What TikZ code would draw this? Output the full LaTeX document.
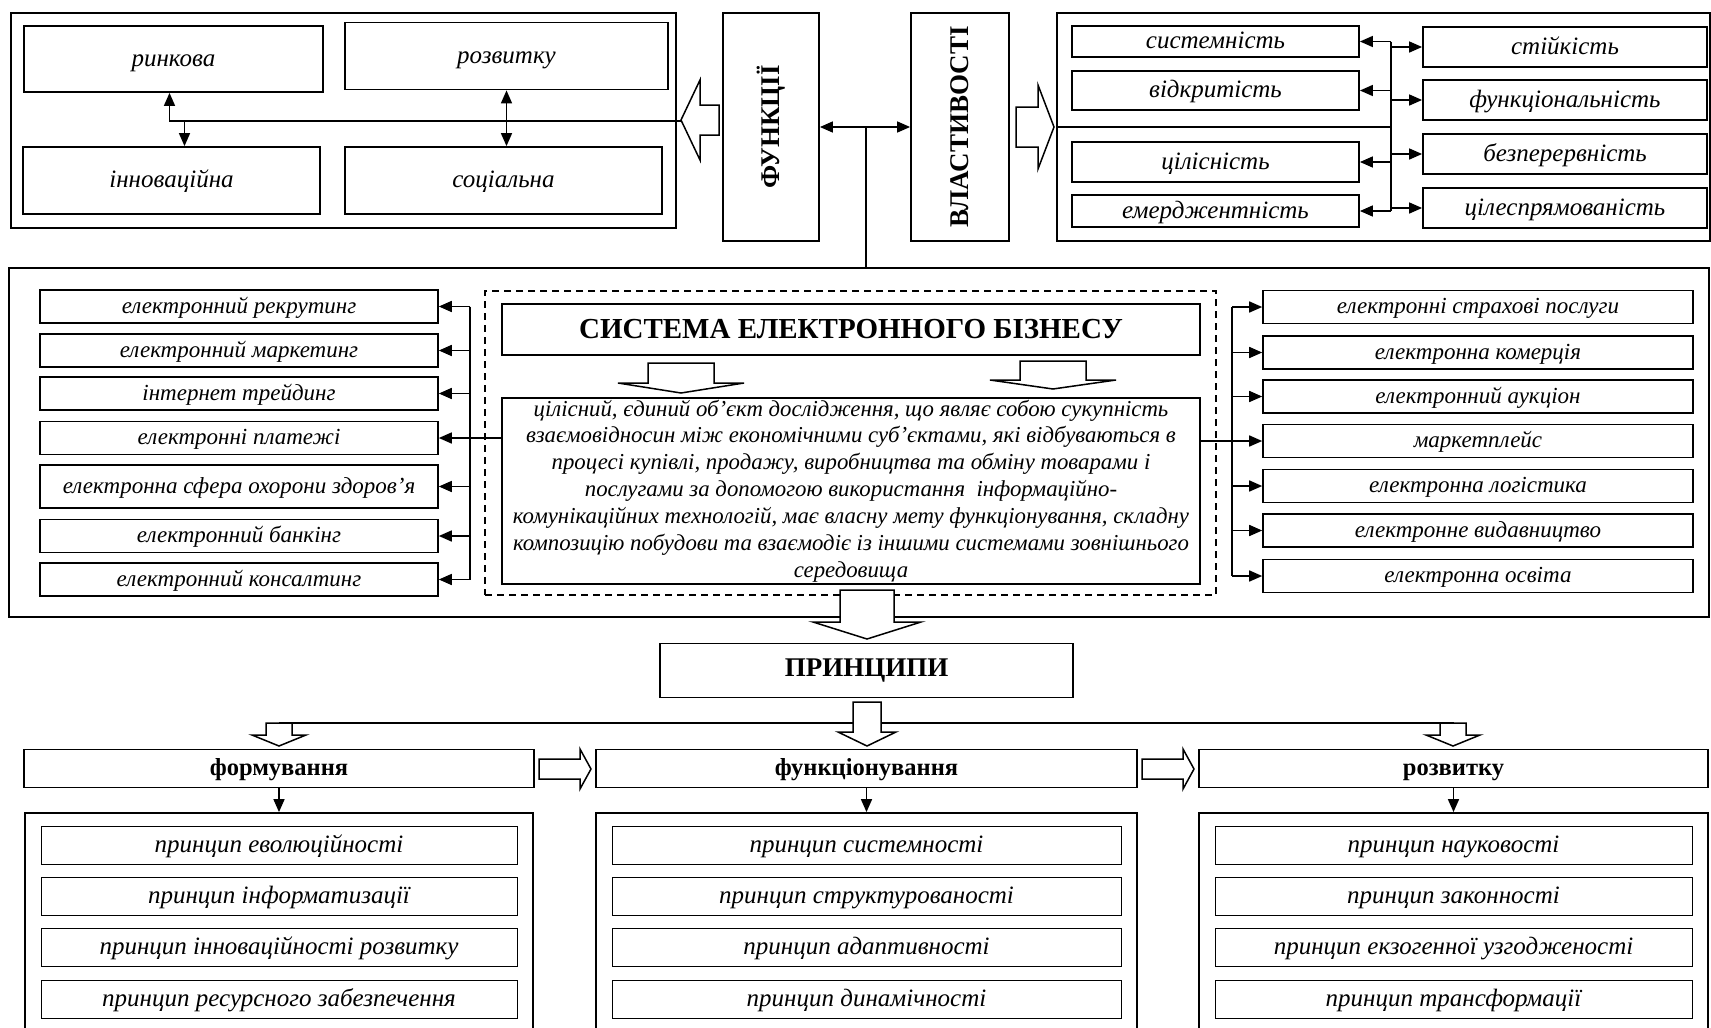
\documentclass[tikz,border=0pt]{standalone}
\usepackage{fontspec}
\setmainfont{Liberation Serif}
\usetikzlibrary{arrows.meta,positioning,calc}

% hollow block arrows: horizontal {cy}{back}{base}{tip}{shaft}{head}, vertical {cx}{top}{base}{tip}{shaft}{head}
\newcommand{\blockh}[6]{\draw[block] (#2,#1-#5) -- (#3,#1-#5) -- (#3,#1-#6) -- (#4,#1) -- (#3,#1+#6) -- (#3,#1+#5) -- (#2,#1+#5) -- cycle;}
\newcommand{\blockv}[6]{\draw[block] (#1-#5,#2) -- (#1-#5,#3) -- (#1-#6,#3) -- (#1,#4) -- (#1+#6,#3) -- (#1+#5,#3) -- (#1+#5,#2) -- cycle;}

\begin{document}
\begin{tikzpicture}[x=1pt,y=-1pt,>={Triangle[length=13pt,width=11pt]},
  frame/.style={draw,line width=1.8pt,inner sep=0pt},
  fbox/.style={draw,line width=1.8pt,inner sep=0pt,text height=19.5pt,text depth=5pt,font=\fontsize{25}{29}\selectfont\itshape},
  pbox/.style={draw,line width=1.8pt,inner sep=0pt,minimum width=287pt,text height=19.5pt,text depth=5pt,font=\fontsize{25}{29}\selectfont\itshape},
  qbox/.style={draw,line width=1.8pt,inner sep=0pt,minimum width=284pt,minimum height=40pt,text height=19.5pt,text depth=5pt,font=\fontsize{25}{29}\selectfont\itshape},
  lbox/.style={draw,line width=1.6pt,inner sep=0pt,minimum width=398pt,minimum height=33pt,text height=18pt,text depth=4.6pt,font=\fontsize{23}{27}\selectfont\itshape},
  rbox/.style={draw,line width=1.6pt,inner sep=0pt,minimum width=430pt,minimum height=33pt,text height=18pt,text depth=4.6pt,font=\fontsize{23}{27}\selectfont\itshape},
  head/.style={draw,line width=1.8pt,inner sep=0pt,minimum height=38pt,text height=19pt,text depth=4.9pt,font=\fontsize{24.5}{28}\selectfont\bfseries},
  pr/.style={draw,line width=0.8pt,inner sep=0pt,minimum height=38pt,text height=19.5pt,text depth=5pt,font=\fontsize{25}{29}\selectfont\itshape},
  line/.style={line width=1.6pt},
  block/.style={line width=1.5pt,fill=white,line join=miter},
  dashbox/.style={draw,line width=1.8pt,dash pattern=on 7pt off 5pt}]
\useasboundingbox (0,0) rectangle (1711,1028);

% functions
\node[frame,minimum width=665pt,minimum height=215pt] (ffrm) at (343.5,120.5) {};
\node[fbox,minimum width=299pt,minimum height=66pt] (rynk) at (173.5,59) {ринкова};
\node[fbox,minimum width=323pt,minimum height=67pt] (rozv) at (506.5,56) {розвитку};
\node[fbox,minimum width=297pt,minimum height=67pt] (innov) at (171.5,180.5) {інноваційна};
\node[fbox,minimum width=317pt,minimum height=67pt] (soc) at (503.5,180.5) {соціальна};
\coordinate (ftip) at (681,121);
\draw[line,->] (ftip) -| ([xshift=-4pt]rynk.south);
\draw[line,->] ([xshift=13pt]innov.north |- ftip) -- ([xshift=13pt]innov.north);
\draw[line,<->] (rozv.south) -- (rozv.south |- soc.north);
\blockh{120}{719}{700}{681}{15}{40}

\node[frame,minimum width=96pt,minimum height=228pt] (func) at (771,127) {};
\node[rotate=90,font=\fontsize{27}{31}\selectfont\bfseries] (funclab) at (func) {ФУНКЦІЇ};
\node[frame,minimum width=98pt,minimum height=228pt] (prop) at (960,127) {};
\node[rotate=90,font=\fontsize{27}{31}\selectfont\bfseries] (proplab) at (prop) {ВЛАСТИВОСТІ};
\coordinate (junc) at (866,127);
\draw[line,<->] (func) -- (prop);

% properties
\node[frame,minimum width=653pt,minimum height=228pt] (pfrm) at (1383.5,127) {};
\node[pbox,minimum height=31pt] (syst) at (1215.5,41.5) {системність};
\node[pbox,minimum height=39pt] (vidk) at (1215.5,90.5) {відкритість};
\node[pbox,minimum height=40pt] (tsil) at (1215.5,162) {цілісність};
\node[pbox,minimum height=32pt] (emer) at (1215.5,211) {емерджентність};
\node[qbox] (stik) at (1565,47) {стійкість};
\node[qbox] (fnkc) at (1565,100) {функціональність};
\node[qbox] (bezp) at (1565,154) {безперервність};
\node[qbox] (tsel) at (1565,208) {цілеспрямованість};
\coordinate (pbus) at (1391,127);
\draw[line] (pfrm.west |- pbus) -- (pbus);
\draw[line] (pbus |- syst) -- (pbus |- emer);
\foreach \n in {syst,vidk,tsil,emer}
  \draw[line,->] (pbus |- \n) -- (\n.east);
\foreach \n in {stik,fnkc,bezp,tsel}
  \draw[line,->] (pbus |- \n) -- (\n.west);
\blockh{127}{1016}{1038}{1054}{20}{42}

% e-business system
\node[frame,minimum width=1700pt,minimum height=349pt] (sys) at (859,442.5) {};
\draw[line] (junc) -- (junc |- sys.north);
\node[dashbox,minimum width=731pt,minimum height=304pt] (dfrm) at (850.5,443) {};
\node[frame,minimum width=698pt,minimum height=51pt,font=\fontsize{29}{33}\selectfont\bfseries] (title) at (851,329.5) {СИСТЕМА ЕЛЕКТРОННОГО БІЗНЕСУ};
\node[frame,minimum width=698pt,minimum height=186pt,align=center,font=\fontsize{22.8}{26.9}\selectfont\itshape] (desc) at (851,491) {цілісний, єдиний об’єкт дослідження, що являє собою сукупність\\
взаємовідносин між економічними суб’єктами, які відбуваються в\\
процесі купівлі, продажу, виробництва та обміну товарами і\\
послугами за допомогою використання\ \ інформаційно-\\
комунікаційних технологій, має власну мету функціонування, складну\\
композицію побудови та взаємодіє із іншими системами зовнішнього\\
середовища};
\blockv{681}{363}{383}{393}{33}{63}
\blockv{1053}{361}{380}{389}{33}{63}

\node[lbox] (rekr) at (239,306.5) {електронний рекрутинг};
\node[lbox] (mrkt) at (239,350.5) {електронний маркетинг};
\node[lbox] (trad) at (239,393.5) {інтернет трейдинг};
\node[lbox] (plat) at (239,438) {електронні платежі};
\node[lbox,minimum height=43pt] (zdor) at (239,486.5) {електронна сфера охорони здоров’я};
\node[lbox] (bank) at (239,536) {електронний банкінг};
\node[lbox] (kons) at (239,579.5) {електронний консалтинг};
\coordinate (lbus) at (470,438);
\draw[line] (lbus |- rekr) -- (lbus |- kons);
\draw[line] (desc.west |- plat) -- (lbus);
\foreach \n in {rekr,mrkt,trad,plat,zdor,bank,kons}
  \draw[line,->] (lbus |- \n) -- (\n.east);

\node[rbox] (strh) at (1478,307) {електронні страхові послуги};
\node[rbox] (komr) at (1478,352.5) {електронна комерція};
\node[rbox] (aukc) at (1478,396.5) {електронний аукціон};
\node[rbox] (mpls) at (1478,441) {маркетплейс};
\node[rbox] (logs) at (1478,486) {електронна логістика};
\node[rbox] (vydv) at (1478,530.5) {електронне видавництво};
\node[rbox] (osvt) at (1478,576) {електронна освіта};
\coordinate (rbus) at (1232,441);
\draw[line] (rbus |- strh) -- (rbus |- osvt);
\draw[line] (desc.east |- mpls) -- (rbus);
\foreach \n in {strh,komr,aukc,mpls,logs,vydv,osvt}
  \draw[line,->] (rbus |- \n) -- (\n.west);
\blockv{867}{590}{622}{639}{27}{54}

% principles
\node[frame,minimum width=413pt,minimum height=54pt,font=\fontsize{27}{31}\selectfont\bfseries] (princ) at (866.5,670.5) {ПРИНЦИПИ};
\node[head,minimum width=510pt] (form) at (279,768.5) {формування};
\node[head,minimum width=541pt] (fnct) at (866.5,768.5) {функціонування};
\node[head,minimum width=509pt] (devl) at (1453.5,768.5) {розвитку};
\coordinate (hl) at (866.5,723);
\draw[line] (hl -| form) -- (hl -| devl);
\blockv{867}{702}{732}{746}{14}{29}
\blockv{279}{723}{735}{746}{13}{27}
\blockv{1453}{723}{735}{746}{13}{27}
\blockh{769}{539}{580}{591}{10}{20}
\blockh{769}{1142}{1183}{1194}{10}{20}

\node[frame,minimum width=508pt,minimum height=232pt] (formc) at (279,929) {};
\node[frame,minimum width=541pt,minimum height=232pt] (fnctc) at (866.5,929) {};
\node[frame,minimum width=509pt,minimum height=232pt] (devlc) at (1453.5,929) {};
\foreach \a/\b in {form/formc,fnct/fnctc,devl/devlc}
  \draw[line,->] (\a.south) -- (\b.north);

\node[pr,minimum width=476pt] (f1) at (279,845) {принцип еволюційності};
\node[pr,minimum width=476pt] (f2) at (279,896.5) {принцип інформатизації};
\node[pr,minimum width=476pt] (f3) at (279,947.5) {принцип інноваційності розвитку};
\node[pr,minimum width=476pt] (f4) at (279,999) {принцип ресурсного забезпечення};
\node[pr,minimum width=509pt] (g1) at (866.5,845) {принцип системності};
\node[pr,minimum width=509pt] (g2) at (866.5,896.5) {принцип структурованості};
\node[pr,minimum width=509pt] (g3) at (866.5,947.5) {принцип адаптивності};
\node[pr,minimum width=509pt] (g4) at (866.5,999) {принцип динамічності};
\node[pr,minimum width=477pt] (h1) at (1453.5,845) {принцип науковості};
\node[pr,minimum width=477pt] (h2) at (1453.5,896.5) {принцип законності};
\node[pr,minimum width=477pt] (h3) at (1453.5,947.5) {принцип екзогенної узгодженості};
\node[pr,minimum width=477pt] (h4) at (1453.5,999) {принцип трансформації};
\end{tikzpicture}
\end{document}
